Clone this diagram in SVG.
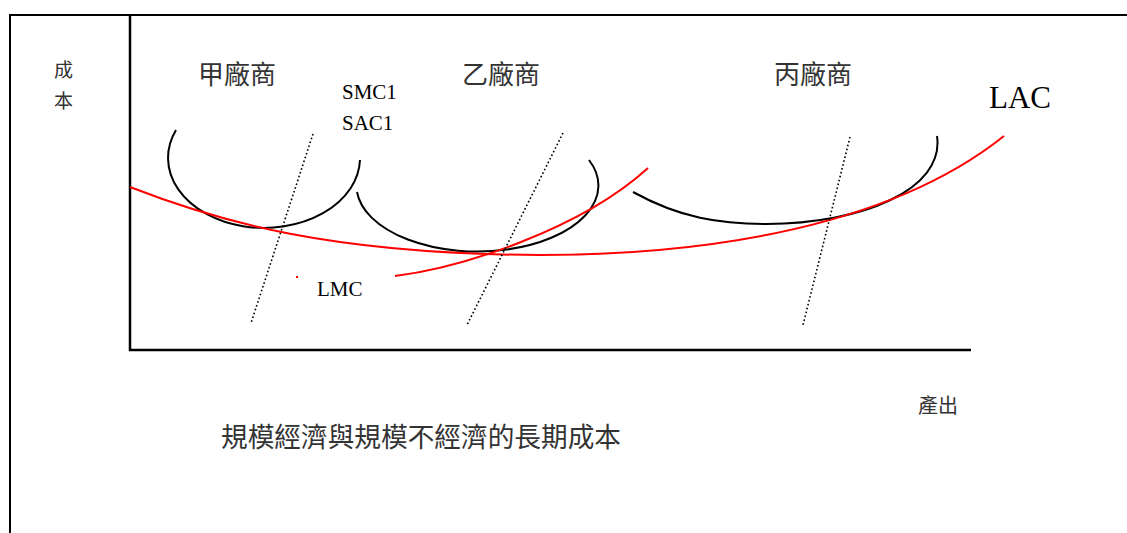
<svg xmlns="http://www.w3.org/2000/svg" width="1127" height="533" viewBox="0 0 1127 533">
<style>
.frame{stroke:#000;stroke-width:2;fill:none}
.axis{stroke:#000;stroke-width:2.5;fill:none}
.sac{stroke:#000;stroke-width:2;fill:none}
.red{stroke:#ff0000;stroke-width:2;fill:none}
.dot{stroke:#000;stroke-width:1.6;stroke-dasharray:1.6 2.4;fill:none}
.cjk{font-family:"Noto Sans CJK TC","Noto Sans CJK SC",sans-serif;fill:#333}
.lat{font-family:"Liberation Serif",serif;fill:#000}
</style>
<rect width="1127" height="533" fill="#fff"/>
<g id="frame">
<path class="frame" d="M10,533 V15 H1127"/>
</g>
<g id="axes">
<path class="axis" d="M130,15 V350 H971"/>
</g>
<g id="axis-labels">
<text class="cjk" x="54" y="77" font-size="19">成</text>
<text class="cjk" x="54" y="108" font-size="19">本</text>
<text class="cjk" x="918" y="413" font-size="20">產出</text>
</g>
<g id="firm-labels">
<text class="cjk" x="198" y="84" font-size="26">甲廠商</text>
<text class="cjk" x="462" y="84" font-size="26">乙廠商</text>
<text class="cjk" x="774" y="84" font-size="26">丙廠商</text>
</g>
<g id="curve-labels">
<text class="lat" x="342" y="99" font-size="21">SMC1</text>
<text class="lat" x="342" y="130" font-size="21">SAC1</text>
<text class="lat" x="317" y="296" font-size="21">LMC</text>
<text class="lat" x="989" y="108" font-size="31">LAC</text>
</g>
<g id="connectors">
<path id="sac1" class="sac" d="M176,130 A96,70 0 1 0 360,160"/>
<path id="sac2" class="sac" d="M357,192 A121,66 0 1 0 589,160"/>
<path id="sac3" class="sac" d="M633,192 C680,218 720,224 767,224 C860,224 945,190 937,136"/>
<path id="lac" class="red" d="M130,187 C220,222 330,254 540,255 C680,255 880,235 1004,136"/>
<path id="lmc" class="red" d="M395,276 C460,268 580,230 648,168"/>
<path class="red" stroke-width="1" d="M297,276 V278"/>
<path class="dot" d="M313,134 L251,323"/>
<path class="dot" d="M563,133 L467,325"/>
<path class="dot" d="M850,137 L803,325"/>
</g>
<g id="title">
<text class="cjk" x="221" y="447" font-size="27" textLength="400" lengthAdjust="spacingAndGlyphs">規模經濟與規模不經濟的長期成本</text>
</g>
</svg>
